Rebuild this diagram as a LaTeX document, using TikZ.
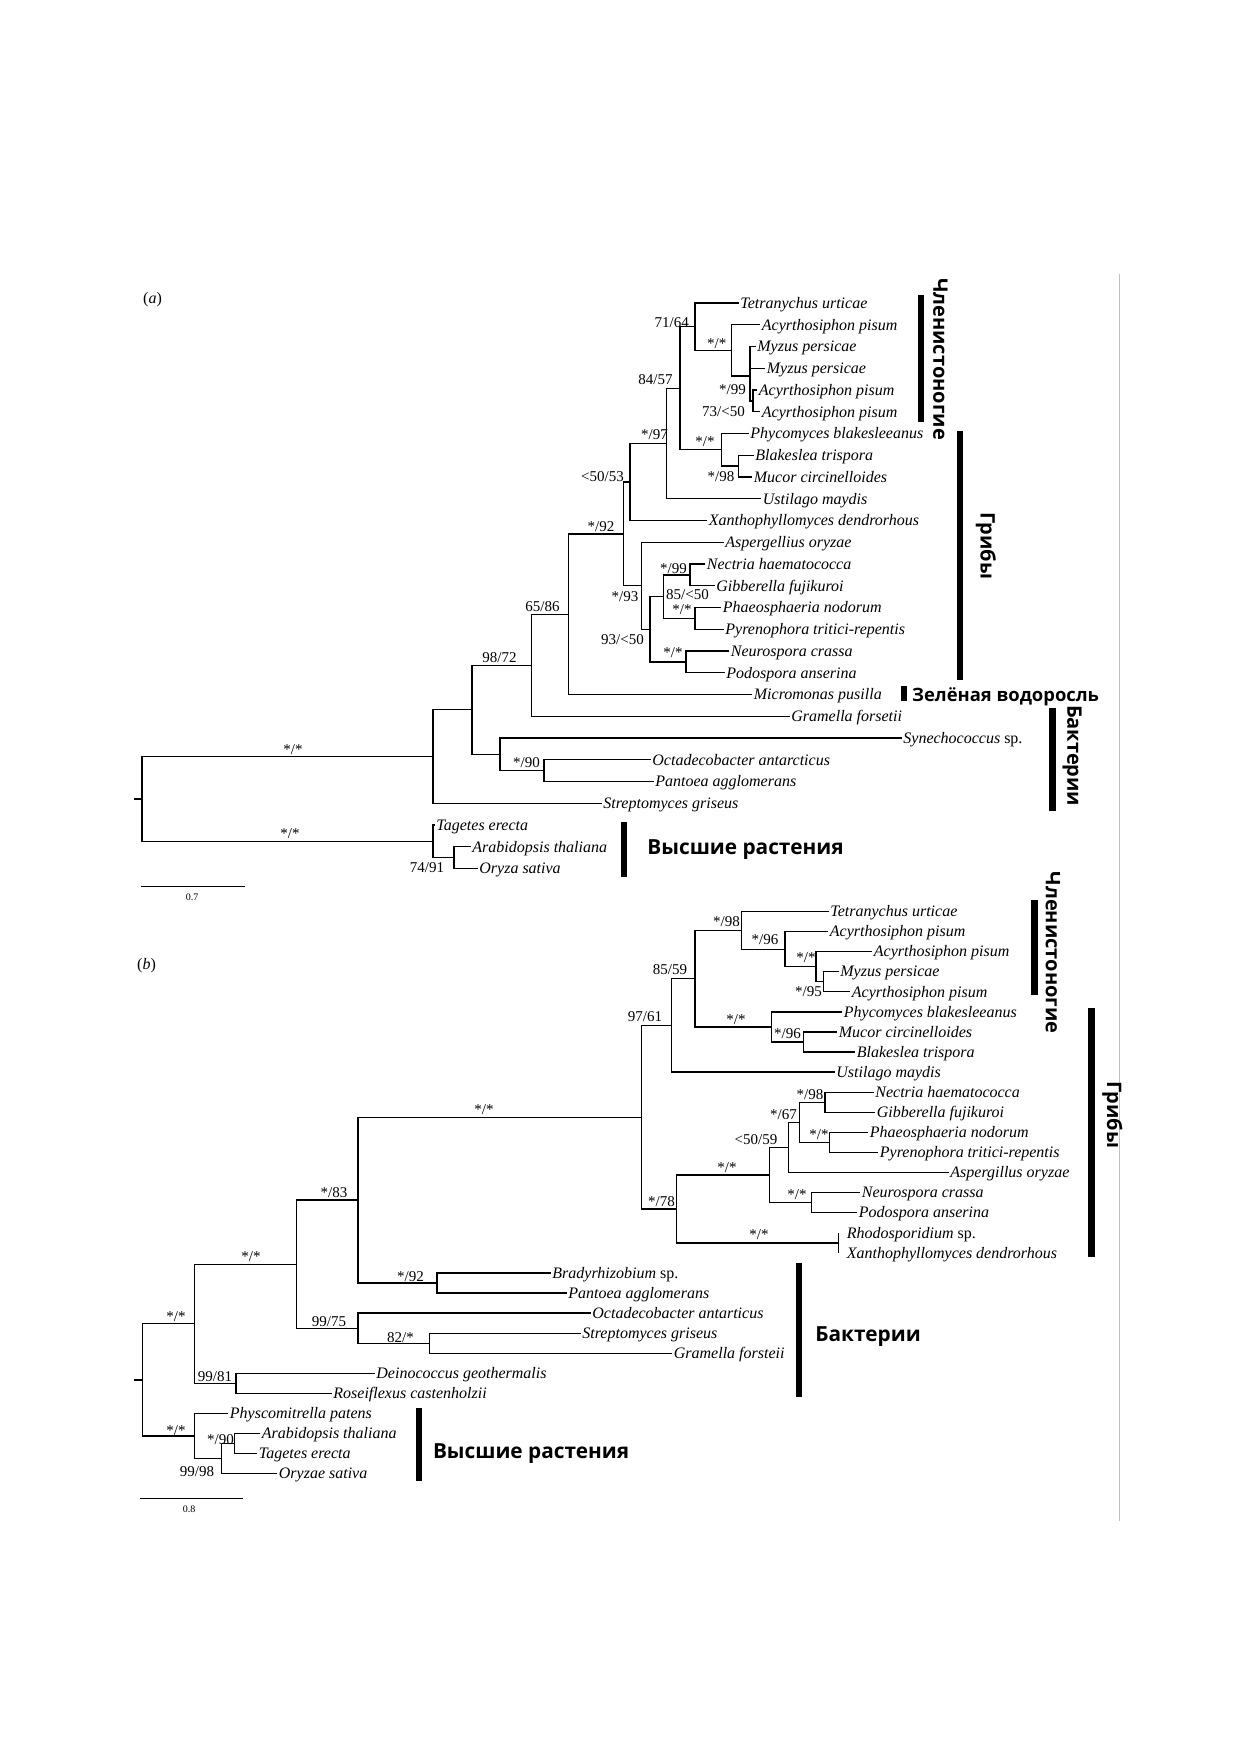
\documentclass[tikz,border=0pt]{standalone}
\usepackage{fontspec}
\setmainfont{Liberation Serif}
\newfontfamily\grpfont{Open Sans}
\begin{document}
\begin{tikzpicture}[x=0.5pt,y=-0.5pt,
  br/.style={line width=0.65pt},
  leaf/.style={font=\fontsize{8}{9}\selectfont\itshape, anchor=west, inner sep=0.75pt, text height=1.45ex, text depth=0.3ex},
  bs/.style={font=\fontsize{7.5}{8}\selectfont, inner sep=0pt},
  grp/.style={font=\grpfont\bfseries\fontsize{10}{12}\selectfont, inner sep=0pt},
  grpg/.style={font=\grpfont\bfseries\fontsize{9.2}{11}\selectfont, inner sep=0pt},
  grpb/.style={font=\grpfont\bfseries\fontsize{10.4}{12.5}\selectfont, inner sep=0pt},
  gbar/.style={line width=3.1pt},
  sbar/.style={line width=0.65pt},
  small/.style={font=\fontsize{5}{6}\selectfont, inner sep=0pt},
  plabel/.style={font=\fontsize{8}{9}\selectfont, inner sep=0pt},
]
\fill[white] (0,0) rectangle (1240,1754);
\useasboundingbox (0,0) rectangle (1240,1754);
\draw[line width=0.5pt, black!25] (1119,274) -- (1119,1521);

%% ================= TREE (a) =================
\node[plabel] (lblA) at (152.5,300) {(\textit{a})};
% leaves
\node[leaf] (la1) at (738.5,303) {Tetranychus urticae};
\node[leaf] (la2) at (760,324.75) {Acyrthosiphon pisum};
\node[leaf] (la3) at (755.5,346.5) {Myzus persicae};
\node[leaf] (la4) at (765,368.25) {Myzus persicae};
\node[leaf] (la5) at (757,390) {Acyrthosiphon pisum};
\node[leaf] (la6) at (760,411.75) {Acyrthosiphon pisum};
\node[leaf] (la7) at (748.5,433.5) {Phycomyces blakesleeanus};
\node[leaf] (la8) at (753.5,455.25) {Blakeslea trispora};
\node[leaf] (la9) at (752,477) {Mucor circinelloides};
\node[leaf] (la10) at (761,498.75) {Ustilago maydis};
\node[leaf] (la11) at (707,520.5) {Xanthophyllomyces dendrorhous};
\node[leaf] (la12) at (723.5,542.25) {Aspergellius oryzae};
\node[leaf] (la13) at (705,564) {Nectria haematococca};
\node[leaf] (la14) at (714.5,585.75) {Gibberella fujikuroi};
\node[leaf] (la15) at (721,607.5) {Phaeosphaeria nodorum};
\node[leaf] (la16) at (723.5,629.25) {Pyrenophora tritici-repentis};
\node[leaf] (la17) at (729,651) {Neurospora crassa};
\node[leaf] (la18) at (724.5,672.75) {Podospora anserina};
\node[leaf] (la19) at (752,694.5) {Micromonas pusilla};
\node[leaf] (la20) at (789.5,716.25) {Gramella forsetii};
\node[leaf] (la21) at (901.5,738) {Synechococcus \textup{sp.}};
\node[leaf] (la22) at (650.5,759.75) {Octadecobacter antarcticus};
\node[leaf] (la23) at (653.5,781.5) {Pantoea agglomerans};
\node[leaf] (la24) at (601.5,803.25) {Streptomyces griseus};
\node[leaf] (la25) at (434.5,825) {Tagetes erecta};
\node[leaf] (la26) at (470.5,846.75) {Arabidopsis thaliana};
\node[leaf] (la27) at (477.5,868.5) {Oryza sativa};
% internal nodes
\coordinate (aR) at (753,400.9);
\coordinate (aQ) at (750,376);
\coordinate (aP) at (731.7,350.4);
\coordinate (aA1) at (695,326.7);
\coordinate (aD) at (738.3,466.1);
\coordinate (aC) at (721.7,449.8);
\coordinate (aB) at (680,388.2);
\coordinate (aE) at (666.7,443.5);
\coordinate (aF) at (630,482);
\coordinate (aK1) at (690,574.9);
\coordinate (aK2) at (695,618.4);
\coordinate (aK) at (663.3,596.6);
\coordinate (aL) at (686,661.9);
\coordinate (aJ) at (650,629.3);
\coordinate (aI) at (641.7,585.8);
\coordinate (aG) at (623.3,533.9);
\coordinate (aH) at (568.3,614.2);
\coordinate (aM) at (531.7,665.2);
\coordinate (aP2) at (544,770.6);
\coordinate (aO) at (500,754.3);
\coordinate (aN) at (472,709.8);
\coordinate (aTop) at (433,756.5);
\coordinate (aAO) at (454,857.6);
\coordinate (aPl) at (433,841.3);
\coordinate (aRoot) at (142,798.9);
\coordinate (aStub) at (134,798.9);
% branches
\draw[br] (aR) |- (la5.west);  \draw[br] (aR) |- (la6.west);
\draw[br] (aQ) |- (la3.west);  \draw[br] (aQ) |- (la4.west); \draw[br] (aQ) |- (aR);
\draw[br] (aP) |- (la2.west);  \draw[br] (aP) |- (aQ);
\draw[br] (aA1) |- (la1.west); \draw[br] (aA1) |- (aP);
\draw[br] (aD) |- (la8.west);  \draw[br] (aD) |- (la9.west);
\draw[br] (aC) |- (la7.west);  \draw[br] (aC) |- (aD);
\draw[br] (aB) |- (aA1);       \draw[br] (aB) |- (aC);
\draw[br] (aE) |- (aB);        \draw[br] (aE) |- (la10.west);
\draw[br] (aF) |- (aE);        \draw[br] (aF) |- (la11.west);
\draw[br] (aK1) |- (la13.west); \draw[br] (aK1) |- (la14.west);
\draw[br] (aK2) |- (la15.west); \draw[br] (aK2) |- (la16.west);
\draw[br] (aK) |- (aK1);       \draw[br] (aK) |- (aK2);
\draw[br] (aL) |- (la17.west); \draw[br] (aL) |- (la18.west);
\draw[br] (aJ) |- (aK);        \draw[br] (aJ) |- (aL);
\draw[br] (aI) |- (la12.west); \draw[br] (aI) |- (aJ);
\draw[br] (aG) |- (aF);        \draw[br] (aG) |- (aI);
\draw[br] (aH) |- (aG);        \draw[br] (aH) |- (la19.west);
\draw[br] (aM) |- (aH);        \draw[br] (aM) |- (la20.west);
\draw[br] (aP2) |- (la22.west); \draw[br] (aP2) |- (la23.west);
\draw[br] (aO) |- (la21.west); \draw[br] (aO) |- (aP2);
\draw[br] (aN) |- (aM);        \draw[br] (aN) |- (aO);
\draw[br] (aTop) |- (aN);      \draw[br] (aTop) |- (la24.west);
\draw[br] (aAO) |- (la26.west); \draw[br] (aAO) |- (la27.west);
\draw[br] (aPl) |- (la25.west); \draw[br] (aPl) |- (aAO);
\draw[br] (aRoot) |- (aTop);   \draw[br] (aRoot) |- (aPl);
\draw[br] (aStub) -- (aRoot);
% support values
\node[bs] (sa1) at (671.7,323) {71/64};
\node[bs] (sa2) at (716.7,343.3) {*/*};
\node[bs] (sa3) at (655.5,380) {84/57};
\node[bs] (sa4) at (732.5,390) {*/99};
\node[bs] (sa5) at (723.5,411.7) {73/<50};
\node[bs] (sa6) at (654.5,435) {*/97};
\node[bs] (sa7) at (705,441.7) {*/*};
\node[bs] (sa8) at (721,476.7) {*/98};
\node[bs] (sa9) at (602.5,476.7) {<50/53};
\node[bs] (sa10) at (601,526.7) {*/92};
\node[bs] (sa11) at (673.5,568.3) {*/99};
\node[bs] (sa12) at (687.5,595) {85/<50};
\node[bs] (sa13) at (625,596.7) {*/93};
\node[bs] (sa14) at (682,610) {*/*};
\node[bs] (sa15) at (622.5,640) {93/<50};
\node[bs] (sa16) at (673,653) {*/*};
\node[bs] (sa17) at (542.5,606.7) {65/86};
\node[bs] (sa18) at (499.5,658) {98/72};
\node[bs] (sa19) at (526.5,763) {*/90};
\node[bs] (sa20) at (293,750) {*/*};
\node[bs] (sa21) at (290,834) {*/*};
\node[bs] (sa22) at (427,868) {74/91};
% scale bar
\coordinate (sbA1) at (141,886.7); \coordinate (sbA2) at (245,886.7);
\draw[sbar] (sbA1) -- (sbA2);
\node[small] (sbAt) at (192,897) {0.7};
% groups
\draw[gbar] (921,295) -- (921,422);
\node[grp, rotate=-90] (ga1) at (940.5,359) {Членистоногие};
\draw[gbar] (960,431) -- (960,680);
\node[grp, rotate=-90] (ga2) at (986,546) {Грибы};
\draw[line width=2.6pt] (904,686) -- (904,701);
\node[grpg, anchor=base west] (ga3) at (911.7,701) {Зелёная водоросль};
\draw[gbar] (1052.5,707.5) -- (1052.5,811);
\node[grp, rotate=-90] (ga4) at (1072,755.7) {Бактерии};
\draw[gbar] (624,822) -- (624,877);
\node[grpb, anchor=base west] (ga5) at (647,854) {Высшие растения};

%% ================= TREE (b) =================
\node[plabel] (lblB) at (146.5,966) {(\textit{b})};
\node[leaf] (lb1) at (828.5,911.5) {Tetranychus urticae};
\node[leaf] (lb2) at (828,931.6) {Acyrthosiphon pisum};
\node[leaf] (lb3) at (872,951.7) {Acyrthosiphon pisum};
\node[leaf] (lb4) at (838.5,971.7) {Myzus persicae};
\node[leaf] (lb5) at (850,991.8) {Acyrthosiphon pisum};
\node[leaf] (lb6) at (842,1011.9) {Phycomyces blakesleeanus};
\node[leaf] (lb7) at (837,1032) {Mucor circinelloides};
\node[leaf] (lb8) at (855,1052.1) {Blakeslea trispora};
\node[leaf] (lb9) at (834.5,1072.1) {Ustilago maydis};
\node[leaf] (lb10) at (873.5,1092.2) {Nectria haematococca};
\node[leaf] (lb11) at (875,1112.3) {Gibberella fujikuroi};
\node[leaf] (lb12) at (868,1132.4) {Phaeosphaeria nodorum};
\node[leaf] (lb13) at (878,1152.5) {Pyrenophora tritici-repentis};
\node[leaf] (lb14) at (948.5,1172.5) {Aspergillus oryzae};
\node[leaf] (lb15) at (860,1192.6) {Neurospora crassa};
\node[leaf] (lb16) at (857,1212.7) {Podospora anserina};
\node[leaf] (lb17) at (845,1232.8) {Rhodosporidium \textup{sp.}};
\node[leaf] (lb18) at (845,1252.9) {Xanthophyllomyces dendrorhous};
\node[leaf] (lb19) at (550.5,1272.9) {Bradyrhizobium \textup{sp.}};
\node[leaf] (lb20) at (566.5,1293) {Pantoea agglomerans};
\node[leaf] (lb21) at (590.5,1313.1) {Octadecobacter antarticus};
\node[leaf] (lb22) at (580.5,1333.2) {Streptomyces griseus};
\node[leaf] (lb23) at (672,1353.3) {Gramella forsteii};
\node[leaf] (lb24) at (374.5,1373.3) {Deinococcus geothermalis};
\node[leaf] (lb25) at (331.5,1393.4) {Roseiflexus castenholzii};
\node[leaf] (lb26) at (228,1413.5) {Physcomitrella patens};
\node[leaf] (lb27) at (260,1433.6) {Arabidopsis thaliana};
\node[leaf] (lb28) at (257,1453.7) {Tagetes erecta};
\node[leaf] (lb29) at (277,1473.7) {Oryzae sativa};
% internal nodes
\coordinate (bD) at (823.3,981.8);
\coordinate (bC) at (816,966.8);
\coordinate (bB) at (785,949.2);
\coordinate (bA) at (741.7,930.4);
\coordinate (bG) at (803.3,1042.1);
\coordinate (bF) at (771.7,1027);
\coordinate (bE) at (695,978.7);
\coordinate (bH) at (671.7,1025.4);
\coordinate (bP) at (825,1102.3);
\coordinate (bQ) at (829.3,1142.5);
\coordinate (bO) at (799.3,1122.4);
\coordinate (bM) at (788.3,1147.5);
\coordinate (bN) at (811.7,1202.7);
\coordinate (bL) at (769.3,1175.1);
\coordinate (bRh) at (838.3,1232.8);
\coordinate (bXa) at (838.3,1252.9);
\coordinate (bRX) at (838.3,1242.9);
\coordinate (bJ) at (676.7,1209);
\coordinate (bI) at (641.7,1117.2);
\coordinate (bBP) at (437,1283);
\coordinate (bK) at (358,1200.1);
\coordinate (bU) at (429.5,1343.3);
\coordinate (bT) at (358,1328.2);
\coordinate (bS) at (296.4,1264.2);
\coordinate (bV) at (236,1383.4);
\coordinate (bW) at (194.6,1323.8);
\coordinate (bZ) at (234.8,1443.7);
\coordinate (bY) at (221.4,1458.7);
\coordinate (bX) at (194.6,1436.1);
\coordinate (bRoot) at (142.4,1380);
\coordinate (bStub) at (133.5,1380);
% branches
\draw[br] (bD) |- (lb4.west);  \draw[br] (bD) |- (lb5.west);
\draw[br] (bC) |- (lb3.west);  \draw[br] (bC) |- (bD);
\draw[br] (bB) |- (lb2.west);  \draw[br] (bB) |- (bC);
\draw[br] (bA) |- (lb1.west);  \draw[br] (bA) |- (bB);
\draw[br] (bG) |- (lb7.west);  \draw[br] (bG) |- (lb8.west);
\draw[br] (bF) |- (lb6.west);  \draw[br] (bF) |- (bG);
\draw[br] (bE) |- (bA);        \draw[br] (bE) |- (bF);
\draw[br] (bH) |- (bE);        \draw[br] (bH) |- (lb9.west);
\draw[br] (bP) |- (lb10.west); \draw[br] (bP) |- (lb11.west);
\draw[br] (bQ) |- (lb12.west); \draw[br] (bQ) |- (lb13.west);
\draw[br] (bO) |- (bP);        \draw[br] (bO) |- (bQ);
\draw[br] (bM) |- (bO);        \draw[br] (bM) |- (lb14.west);
\draw[br] (bN) |- (lb15.west); \draw[br] (bN) |- (lb16.west);
\draw[br] (bL) |- (bM);        \draw[br] (bL) |- (bN);
\draw[br] (bRX) -- (bRh);      \draw[br] (bRX) -- (bXa);
\draw[br] (bJ) |- (bL);        \draw[br] (bJ) |- (bRX);
\draw[br] (bI) |- (bH);        \draw[br] (bI) |- (bJ);
\draw[br] (bBP) |- (lb19.west); \draw[br] (bBP) |- (lb20.west);
\draw[br] (bK) |- (bI);        \draw[br] (bK) |- (bBP);
\draw[br] (bU) |- (lb22.west); \draw[br] (bU) |- (lb23.west);
\draw[br] (bT) |- (lb21.west); \draw[br] (bT) |- (bU);
\draw[br] (bS) |- (bK);        \draw[br] (bS) |- (bT);
\draw[br] (bV) |- (lb24.west); \draw[br] (bV) |- (lb25.west);
\draw[br] (bW) |- (bS);        \draw[br] (bW) |- (bV);
\draw[br] (bZ) |- (lb27.west); \draw[br] (bZ) |- (lb28.west);
\draw[br] (bY) |- (bZ);        \draw[br] (bY) |- (lb29.west);
\draw[br] (bX) |- (lb26.west); \draw[br] (bX) |- (bY);
\draw[br] (bRoot) |- (bW);     \draw[br] (bRoot) |- (bX);
\draw[br] (bStub) -- (bRoot);
% support values
\node[bs] (sb1) at (726.5,921.7) {*/98};
\node[bs] (sb2) at (765,940) {*/96};
\node[bs] (sb3) at (806,958) {*/*};
\node[bs] (sb4) at (808.5,991.7) {*/95};
\node[bs] (sb5) at (670,969.3) {85/59};
\node[bs] (sb6) at (736,1020) {*/*};
\node[bs] (sb7) at (787.5,1034) {*/96};
\node[bs] (sb8) at (645,1016.7) {97/61};
\node[bs] (sb9) at (810,1095) {*/98};
\node[bs] (sb10) at (783.5,1115) {*/67};
\node[bs] (sb11) at (756,1140) {<50/59};
\node[bs] (sb12) at (819,1135) {*/*};
\node[bs] (sb13) at (727,1168) {*/*};
\node[bs] (sb14) at (797,1195) {*/*};
\node[bs] (sb15) at (661.5,1201.7) {*/78};
\node[bs] (sb16) at (759,1235) {*/*};
\node[bs] (sb17) at (484,1110) {*/*};
\node[bs] (sb18) at (334,1193) {*/83};
\node[bs] (sb19) at (410.5,1277) {*/92};
\node[bs] (sb20) at (329,1321.7) {99/75};
\node[bs] (sb21) at (400.5,1338) {82/*};
\node[bs] (sb22) at (251,1257) {*/*};
\node[bs] (sb23) at (215,1377) {99/81};
\node[bs] (sb24) at (176,1317) {*/*};
\node[bs] (sb25) at (176,1431) {*/*};
\node[bs] (sb26) at (220.5,1440) {*/90};
\node[bs] (sb27) at (197,1471.7) {99/98};
% scale bar
\coordinate (sbB1) at (140,1498.3); \coordinate (sbB2) at (243,1498.3);
\draw[sbar] (sbB1) -- (sbB2);
\node[small] (sbBt) at (189,1509) {0.8};
% groups
\draw[gbar] (1034.5,900) -- (1034.5,995);
\node[grp, rotate=-90] (gb1) at (1053,952.5) {Членистоногие};
\draw[gbar] (1091.5,1008) -- (1091.5,1257);
\node[grp, rotate=-90] (gb2) at (1112.5,1115) {Грибы};
\draw[gbar] (799,1263) -- (799,1397);
\node[grpb, anchor=base west] (gb3) at (815,1341) {Бактерии};
\draw[gbar] (419,1408) -- (419,1481);
\node[grpb, anchor=base west] (gb4) at (432.6,1458) {Высшие растения};
\end{tikzpicture}
\end{document}
